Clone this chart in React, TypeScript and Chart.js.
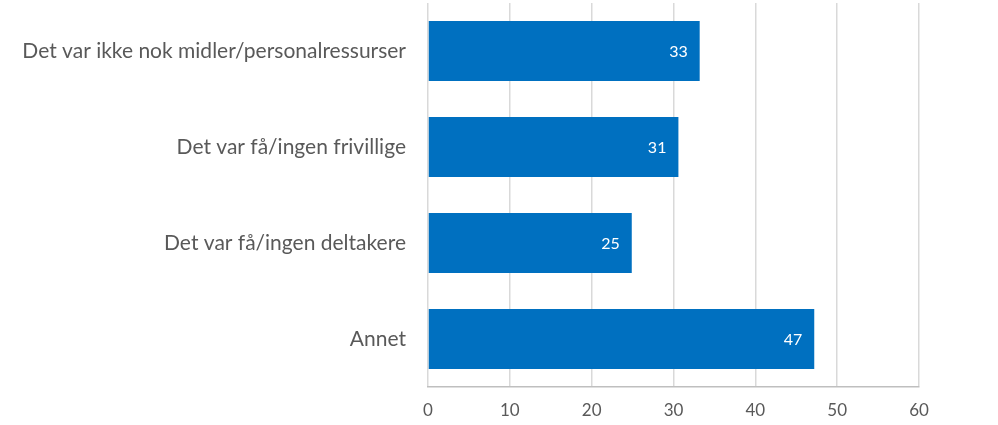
import React, { useEffect, useRef } from "react";
import { Chart, registerables } from "chart.js";

Chart.register(...registerables);

const categories = [
  "Det var ikke nok midler/personalressurser",
  "Det var få/ingen frivillige",
  "Det var få/ingen deltakere",
  "Annet",
];
const values = [33.2, 30.6, 24.9, 47.2];
const valueLabels = ["33", "31", "25", "47"];
const xTicks = [0, 10, 20, 30, 40, 50, 60];

const FONT = "Lato, 'Open Sans', sans-serif";

const barLabelPlugin = {
  id: "barLabels",
  afterDatasetsDraw(chart: any) {
    const ctx = chart.ctx;
    const meta = chart.getDatasetMeta(0);
    ctx.save();
    ctx.fillStyle = "#ffffff";
    ctx.font = `16px ${FONT}`;
    ctx.textAlign = "right";
    ctx.textBaseline = "middle";
    meta.data.forEach((bar: any, i: number) => {
      ctx.fillText(valueLabels[i], bar.x - 12, bar.y + 1);
    });
    ctx.restore();
  },
};

export default function App() {
  const ref = useRef<HTMLCanvasElement | null>(null);
  useEffect(() => {
    document.body.style.margin = "0";
    const chart = new Chart(ref.current as HTMLCanvasElement, {
      type: "bar",
      data: {
        labels: categories,
        datasets: [
          {
            data: values,
            backgroundColor: "#0070C0",
            barPercentage: 0.625,
            categoryPercentage: 1,
          },
        ],
      },
      options: {
        indexAxis: "y",
        animation: false,
        responsive: false,
        layout: { padding: { top: 3, right: 79, left: 0, bottom: 4 } },
        plugins: { legend: { display: false }, tooltip: { enabled: false } },
        scales: {
          x: {
            min: 0,
            max: 60,
            afterBuildTicks: (scale: any) => {
              scale.ticks = xTicks.map((v) => ({ value: v }));
            },
            afterFit: (scale: any) => {
              scale.paddingLeft = 0;
              scale.paddingRight = 0;
              scale.height = 34;
            },
            grid: { color: "#d9d9d9", lineWidth: 1.5, drawTicks: false },
            border: { display: true, color: "#bfbfbf", width: 1.5 },
            ticks: {
              color: "#595959",
              font: { family: FONT, size: 17 },
              padding: 13,
              maxRotation: 0,
            },
          },
          y: {
            grid: { display: false, drawTicks: false },
            border: { display: false },
            afterFit: (scale: any) => {
              scale.width = 428;
              scale.paddingTop = 0;
              scale.paddingBottom = 0;
            },
            ticks: {
              color: "#595959",
              font: { family: FONT, size: 21 },
              padding: 22,
            },
          },
        },
      },
      plugins: [barLabelPlugin],
    });
    return () => chart.destroy();
  }, []);
  return (
    <div style={{ width: 998, height: 425 }}>
      <canvas ref={ref} width={998} height={425} />
    </div>
  );
}
